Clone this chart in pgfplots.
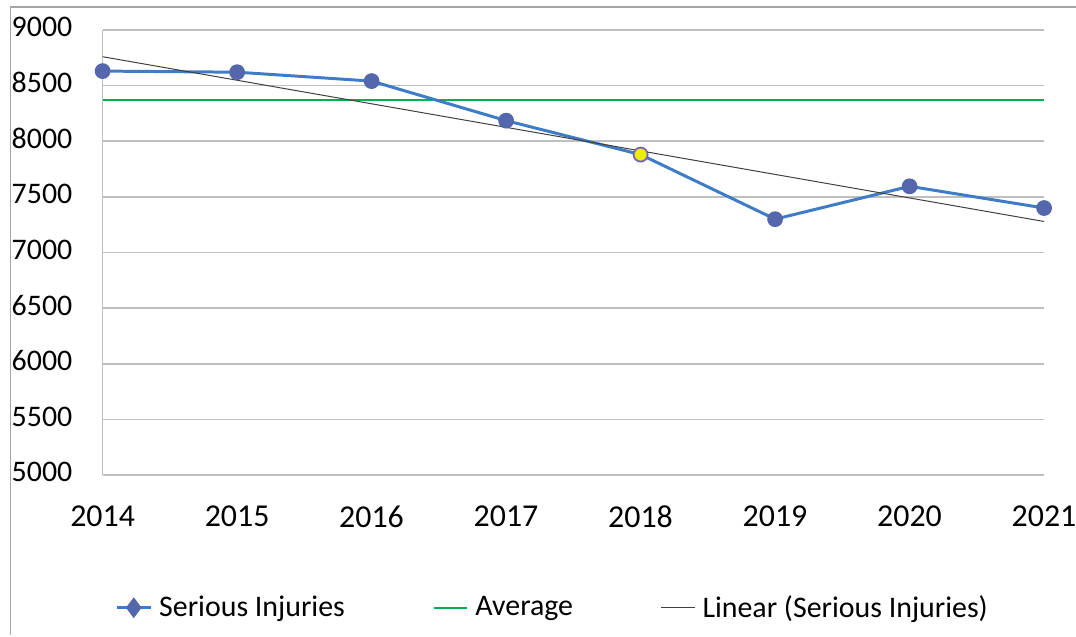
\documentclass[border=0pt]{standalone}
\usepackage{fontspec}
\setmainfont{Carlito}
\usepackage{pgfplots}
\pgfplotsset{compat=1.18}
\definecolor{injline}{HTML}{3F7CC7}
\definecolor{injmark}{HTML}{5467AD}
\definecolor{avggreen}{HTML}{00B050}
\definecolor{gridgray}{HTML}{BFBFBF}
\definecolor{hilite}{HTML}{E8F000}
\begin{document}
\begin{tikzpicture}
\useasboundingbox (0,0) rectangle (540bp,319.5bp);
\draw[gray!70, line width=0.8bp] (5.25bp,1bp) -- (5.25bp,316bp) -- (540bp,316bp);
\begin{axis}[
    at={(51.5bp,81bp)}, anchor=south west,
    scale only axis,
    width=472.5bp, height=223.5bp,
    xmin=2014, xmax=2021,
    ymin=5000, ymax=9000,
    xtick={2014,...,2021},
    ytick={5000,5500,...,9000},
    axis x line*=bottom, axis y line*=left,
    axis line style={gridgray, line width=0.8bp},
    major tick length=0pt,
    ymajorgrids, grid style={gridgray, line width=0.8bp},
    clip=false,
    font=\fontsize{15bp}{18bp}\selectfont,
    /pgf/number format/assume math mode=true,
    /pgf/number format/1000 sep={},
    yticklabel style={anchor=east, inner sep=0pt, xshift=-15bp, yshift=1.5bp},
    xticklabel style={anchor=north, inner sep=0pt, yshift=-15bp,
        font=\fontsize{16bp}{19bp}\selectfont},
    legend columns=3,
    legend style={draw=none, fill=none, at={(0.479,-0.2975)}, anchor=center,
        font=\fontsize{15bp}{18bp}\selectfont,
        /tikz/every even column/.append style={column sep=42bp},
        /tikz/every odd column/.append style={column sep=1.5bp}},
    legend image code/.code={\draw[mark repeat=2, mark phase=2, #1] plot coordinates {(0bp,0bp) (8.5bp,0bp) (17bp,0bp)};},
]
\addlegendimage{injline, line width=1.5bp, mark=diamond*, mark size=4bp, mark options={fill=injmark, draw=injmark}}
\addlegendentry{Serious Injuries}
\addlegendimage{avggreen, line width=1bp}
\addlegendentry{Average}
\addlegendimage{black!75, line width=0.5bp}
\addlegendentry{Linear (Serious Injuries)}

\addplot[forget plot, avggreen, line width=1bp] coordinates {(2014,8372) (2021,8372)};
\addplot[forget plot, injline, line width=1.5bp, mark=*, mark size=3.2bp,
    mark options={fill=injmark, draw=injmark}] coordinates {
    (2014,8630) (2015,8620) (2016,8540) (2017,8185)
    (2018,7880) (2019,7300) (2020,7595) (2021,7400)};
\addplot[forget plot, only marks, mark=*, mark size=3.2bp,
    mark options={fill=hilite, draw=violet!60}] coordinates {(2018,7880)};
\addplot[forget plot, black!75, line width=0.5bp] coordinates {(2014,8759) (2021,7279)};
\end{axis}
\end{tikzpicture}
\end{document}
